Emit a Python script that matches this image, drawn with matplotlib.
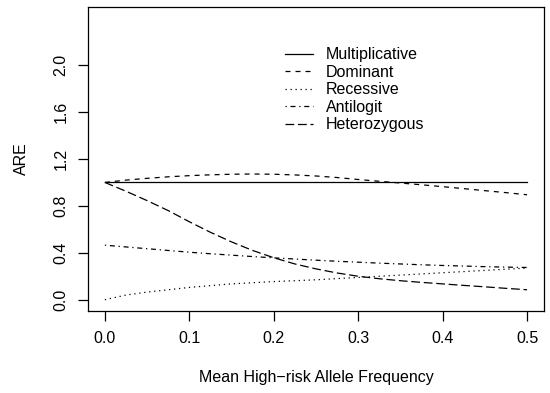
import matplotlib
matplotlib.use("Agg")
import matplotlib.pyplot as plt
from matplotlib.ticker import FormatStrFormatter

plt.rcParams['font.family'] = ['Liberation Sans', 'DejaVu Sans']
plt.rcParams['font.size'] = 11.5

# mean high-risk allele frequency
freq = [0.0, 0.025, 0.05, 0.075, 0.1, 0.125, 0.15, 0.175, 0.2, 0.225, 0.25,
        0.275, 0.3, 0.325, 0.35, 0.375, 0.4, 0.425, 0.45, 0.475, 0.5]

# ARE under each genetic model
are_mult = [1.0] * len(freq)
are_dom = [1.0, 1.02, 1.035, 1.048, 1.058, 1.065, 1.07, 1.072, 1.07, 1.064, 1.055,
           1.042, 1.025, 1.01, 0.995, 0.98, 0.964, 0.947, 0.93, 0.913, 0.895]
are_rec = [0.0, 0.04, 0.065, 0.085, 0.105, 0.12, 0.135, 0.145, 0.155, 0.162, 0.17,
           0.18, 0.19, 0.2, 0.21, 0.22, 0.23, 0.24, 0.25, 0.26, 0.27]
are_logit = [0.465, 0.45, 0.435, 0.42, 0.405, 0.392, 0.38, 0.368, 0.357, 0.347, 0.337,
             0.328, 0.32, 0.312, 0.305, 0.298, 0.292, 0.287, 0.282, 0.278, 0.275]
are_het = [1.0, 0.925, 0.845, 0.76, 0.665, 0.575, 0.493, 0.42, 0.358, 0.305, 0.263,
           0.228, 0.2, 0.179, 0.162, 0.148, 0.135, 0.122, 0.11, 0.097, 0.085]

labels = ["Multiplicative", "Dominant", "Recessive", "Antilogit", "Heterozygous"]
x_ticks = [0.0, 0.1, 0.2, 0.3, 0.4, 0.5]
y_ticks = [0.0, 0.4, 0.8, 1.2, 1.6, 2.0]

# R-like line types: solid, dashed, dotted, dotdash, longdash
styles = ['-', (0, (4, 4)), (0, (1, 3)), (0, (1, 3, 4, 3)), (0, (7, 3))]

fig = plt.figure(figsize=(5.5, 3.93), dpi=100)
ax = fig.add_axes([0.16, 0.2087, 0.829, 0.7735])

series = [are_mult, are_dom, are_rec, are_logit, are_het]
for ys, ls, lab in zip(series, styles, labels):
    ax.plot(freq, ys, color='black', linestyle=ls, linewidth=0.9,
            dash_capstyle='butt', label=lab)

ax.set_xlim(-0.02, 0.52)
ax.set_ylim(-0.096, 2.496)
ax.set_xticks(x_ticks)
ax.set_yticks(y_ticks)
ax.xaxis.set_major_formatter(FormatStrFormatter('%.1f'))
ax.yaxis.set_major_formatter(FormatStrFormatter('%.1f'))
ax.tick_params(direction='out', length=7.2, width=0.9, color='black')
ax.tick_params(axis='x', pad=7)
ax.tick_params(axis='y', pad=7, labelrotation=90)
for lbl in ax.get_yticklabels():
    lbl.set_va('center')

for sp in ax.spines.values():
    sp.set_linewidth(0.9)
    sp.set_color('black')

ax.set_xlabel("Mean High\u2212risk Allele Frequency", va='center')
ax.set_ylabel("ARE", va='center')
ax.xaxis.set_label_coords(0.5, -0.22)
ax.yaxis.set_label_coords(-0.147, 0.5)

ax.legend(loc='upper left', bbox_to_anchor=(0.432, 0.868), frameon=False,
          borderpad=0, borderaxespad=0, handlelength=1.75, handletextpad=0.8,
          labelspacing=0.16)

fig.savefig("out.png", dpi=100)
